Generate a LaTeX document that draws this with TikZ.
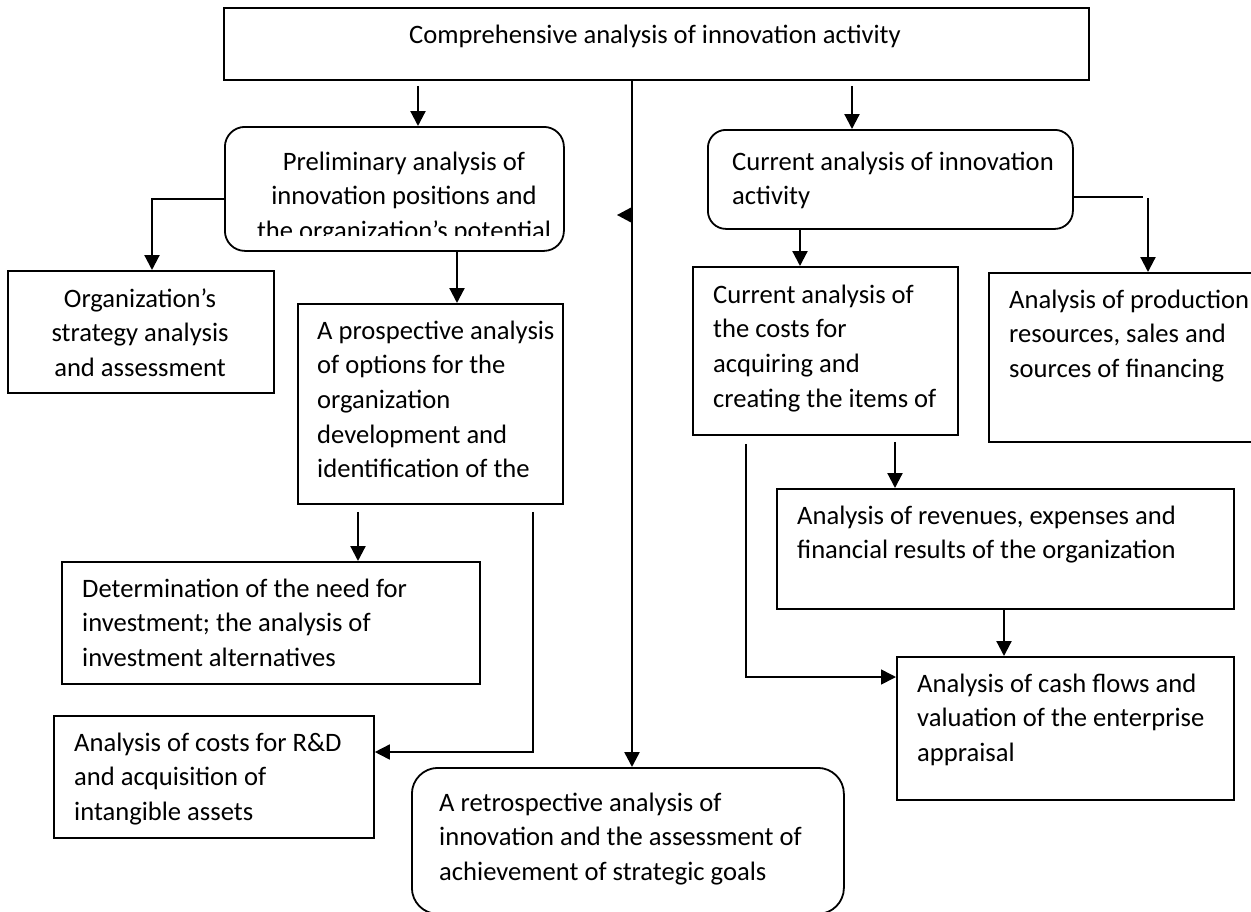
\documentclass[tikz,border=0pt]{standalone}
\usepackage{fontspec}
\setmainfont{Carlito}
\usetikzlibrary{arrows.meta}
\begin{document}
\begin{tikzpicture}[x=1pt,y=-1pt,
  box/.style={draw, line width=1.8pt, inner sep=0pt, anchor=north west},
  rbox/.style={box, rounded corners=20pt},
  tx/.style={inner sep=0pt, align=left, font=\fontsize{26.6}{34.7}\selectfont},
  arr/.style={line width=2.2pt, -{Triangle[length=15pt,width=15pt]}},
  tarr/.style={line width=1.6pt, -{Triangle[length=15pt,width=15pt]}},
  thinline/.style={line width=1.3pt}]
\useasboundingbox (0,0) rectangle (1251,911);
\clip (0,0) rectangle (1251,911);

% boxes
\node[box, minimum width=865pt, minimum height=72pt] (top) at (223,7) {};
\node[rbox, minimum width=339pt, minimum height=124pt] (prelim) at (224,126) {};
\node[rbox, rounded corners=18pt, minimum width=365pt, minimum height=99pt] (current) at (707,129) {};
\node[box, minimum width=266pt, minimum height=122pt] (strat) at (7,270) {};
\node[box, minimum width=265pt, minimum height=200pt] (prosp) at (297,303) {};
\node[box, minimum width=265pt, minimum height=168pt] (cost) at (692,266) {};
\node[box, minimum width=280pt, minimum height=169pt] (prod) at (988,272) {};
\node[box, minimum width=457pt, minimum height=120pt] (rev) at (776,488) {};
\node[box, minimum width=337pt, minimum height=143pt] (cash) at (896,656) {};
\node[box, minimum width=418pt, minimum height=122pt] (det) at (61,561) {};
\node[box, minimum width=320pt, minimum height=122pt] (rnd) at (53,715) {};
\node[rbox, rounded corners=26pt, minimum width=432pt, minimum height=146pt] (retro) at (411,767) {};

% texts (anchor = baseline of the last line)
\node[tx, anchor=base] (tTop) at (655,43) {Comprehensive analysis of innovation activity};
\begin{scope}
\clip (224,126) rectangle (563,235);
\node[tx, align=center, anchor=base] (tPre) at (404,239.4) {Preliminary analysis of\\innovation positions and\\the organization’s potential};
\end{scope}
\node[tx, anchor=base west] (tCur) at (732,204.7) {Current analysis of innovation\\activity};
\node[tx, align=center, anchor=base] (tStr) at (140,376.4) {Organization’s\\strategy analysis\\and assessment};
\node[tx, anchor=base west] (tPro) at (317,477.8) {A prospective analysis\\of options for the\\organization\\development and\\identification of the};
\node[tx, anchor=base west] (tCost) at (713,407.1) {Current analysis of\\the costs for\\acquiring and\\creating the items of};
\node[tx, anchor=base west] (tProd) at (1009,377.4) {Analysis of production\\resources, sales and\\sources of financing};
\node[tx, anchor=base west] (tRev) at (797,558.7) {Analysis of revenues, expenses and\\financial results of the organization};
\node[tx, anchor=base west] (tCash) at (917,761.4) {Analysis of cash flows and\\valuation of the enterprise\\appraisal};
\node[tx, anchor=base west] (tDet) at (82,666.4) {Determination of the need for\\investment; the analysis of\\investment alternatives};
\node[tx, anchor=base west] (tRnd) at (74,820.4) {Analysis of costs for R\&D\\and acquisition of\\intangible assets};
\node[tx, anchor=base west] (tRet) at (439,880.4) {A retrospective analysis of\\innovation and the assessment of\\achievement of strategic goals};

% helper coordinates
\coordinate (xa) at (418,0);
\coordinate (xb) at (852,0);
\coordinate (xc) at (632,0);
\coordinate (ye) at (0,199);
\coordinate (xe) at (152,0);
\coordinate (xf) at (457,0);
\coordinate (xg) at (800,0);
\coordinate (yh) at (0,197);
\coordinate (xh1) at (1143,0);
\coordinate (xh2) at (1148,0);
\coordinate (xi) at (895,0);
\coordinate (xj) at (746,0);
\coordinate (yj) at (0,677);
\coordinate (xk) at (1004,0);
\coordinate (xl) at (533,0);
\coordinate (yl) at (0,752);
\coordinate (xm) at (358,0);

% connectors
\draw[arr, shorten <=5pt] (top.south -| xa) -- (prelim.north -| xa);
\draw[arr, shorten <=5pt] (top.south -| xb) -- (current.north -| xb);
\draw[arr, line width=2.5pt] (top.south -| xc) -- (retro.north -| xc);
\fill (632,207) -- (617,215) -- (632,223) -- cycle;
\draw[arr] (prelim.west |- ye) -| (strat.north -| xe);
\draw[arr] (prelim.south -| xf) -- (prosp.north -| xf);
\draw[arr] (current.south -| xg) -- (cost.north -| xg);
\draw[thinline] (current.east |- yh) -- (xh1 |- yh);
\draw[arr, shorten <=1pt] (xh2 |- yh) -- (prod.north -| xh2);
\draw[arr, shorten <=6pt] (cost.south -| xi) -- (rev.north -| xi);
\draw[tarr, shorten <=8pt] (cost.south -| xj) |- (cash.west |- yj);
\draw[arr] (rev.south -| xk) -- (cash.north -| xk);
\draw[tarr, shorten <=7pt] (prosp.south -| xl) |- (rnd.east |- yl);
\draw[arr, shorten <=7pt] (prosp.south -| xm) -- (det.north -| xm);
\end{tikzpicture}
\end{document}
